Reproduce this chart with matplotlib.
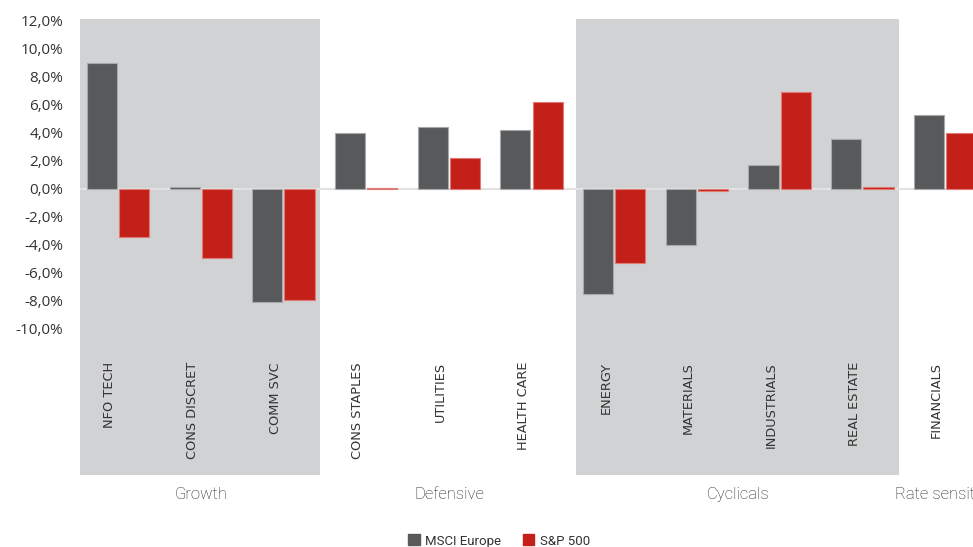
import matplotlib
matplotlib.use("Agg")
import matplotlib.pyplot as plt
from matplotlib.patches import Patch
import numpy as np

categories = ["NFO TECH", "CONS DISCRET", "COMM SVC", "CONS STAPLES", "UTILITIES",
              "HEALTH CARE", "ENERGY", "MATERIALS", "INDUSTRIALS", "REAL ESTATE", "FINANCIALS"]
msci_europe = [9.0, 0.15, -8.1, 4.0, 4.4, 4.2, -7.5, -4.0, 1.7, 3.55, 5.3]
sp500 = [-3.45, -4.95, -7.95, 0.1, 2.2, 6.2, -5.25, -0.15, 6.9, 0.15, 4.0]
groups = ["Growth", "Defensive", "Cyclicals", "Rate sensitive"]
group_members = [(0, 2), (3, 5), (6, 9), (10, 10)]
shaded_groups = [0, 2]
yticks = [-10, -8, -6, -4, -2, 0, 2, 4, 6, 8, 10, 12]
series_names = ["MSCI Europe", "S&P 500"]

DARK = "#58595B"
RED = "#C4201A"
BAND = "#D1D2D4"
TXT = "#333333"

PX = 14.0          # pixels per 1 %
Y0 = 189.0         # pixel row of 0 %
TOP, BOT = 19, 475
ymax = (Y0 - TOP) / PX
ymin = -(BOT - Y0) / PX

fig = plt.figure(figsize=(9.73, 5.47), dpi=100)
ax = fig.add_axes([80 / 973, 1 - BOT / 547, 1 - 80 / 973, (BOT - TOP) / 547])

x = np.arange(len(categories))
w = 0.365
off = 0.195

for g in shaded_groups:
    a, b = group_members[g]
    ax.axvspan(a - 0.46, b + 0.44, color=BAND, zorder=0, lw=0)

ax.axhline(0, color="#E2E2E2", lw=1.5, zorder=1)

ax.bar(x - off, msci_europe, width=w, color=DARK, edgecolor="#A8A9AB", linewidth=0.8, zorder=2)
ax.bar(x + off, sp500, width=w, color=RED, edgecolor="#E07A75", linewidth=0.8, zorder=2)

ax.set_xlim(-0.46, (973 - 118) / 82.7)
ax.set_ylim(ymin, ymax)
ax.set_yticks(yticks)
ax.set_yticklabels([f"{v:.1f}%".replace(".", ",") for v in yticks],
                   fontsize=11, color=TXT, fontfamily="Open Sans")
ax.tick_params(axis="y", length=0, pad=12)
ax.set_xticks([])
for s in ax.spines.values():
    s.set_visible(False)
ax.patch.set_alpha(0)

# category labels (rotated, inside plot area)
y_top = ymax - (362 - TOP) / PX
for i, c in enumerate(categories):
    ax.text(i - 0.1, y_top, c, rotation=90, ha="center", va="top",
            fontsize=9.3, color=TXT, fontfamily="DejaVu Sans", zorder=3)

# group labels
for g, (a, b) in zip(groups, group_members):
    ax.text((a + b) / 2, ymax - (494 - TOP) / PX, g, ha="center", va="center",
            fontsize=12, color="#222222", fontfamily="Roboto", fontweight="light", clip_on=False)

handles = [Patch(color=DARK), Patch(color=RED)]
fig.legend(handles, series_names, loc="center", bbox_to_anchor=(0.513, 1 - 541 / 547),
           ncol=2, frameon=False, handlelength=0.9, handleheight=0.9,
           handletextpad=0.4, columnspacing=1.6, labelcolor=TXT,
           prop={"family": "Roboto", "size": 9.5})

fig.savefig("out.png", dpi=100)
